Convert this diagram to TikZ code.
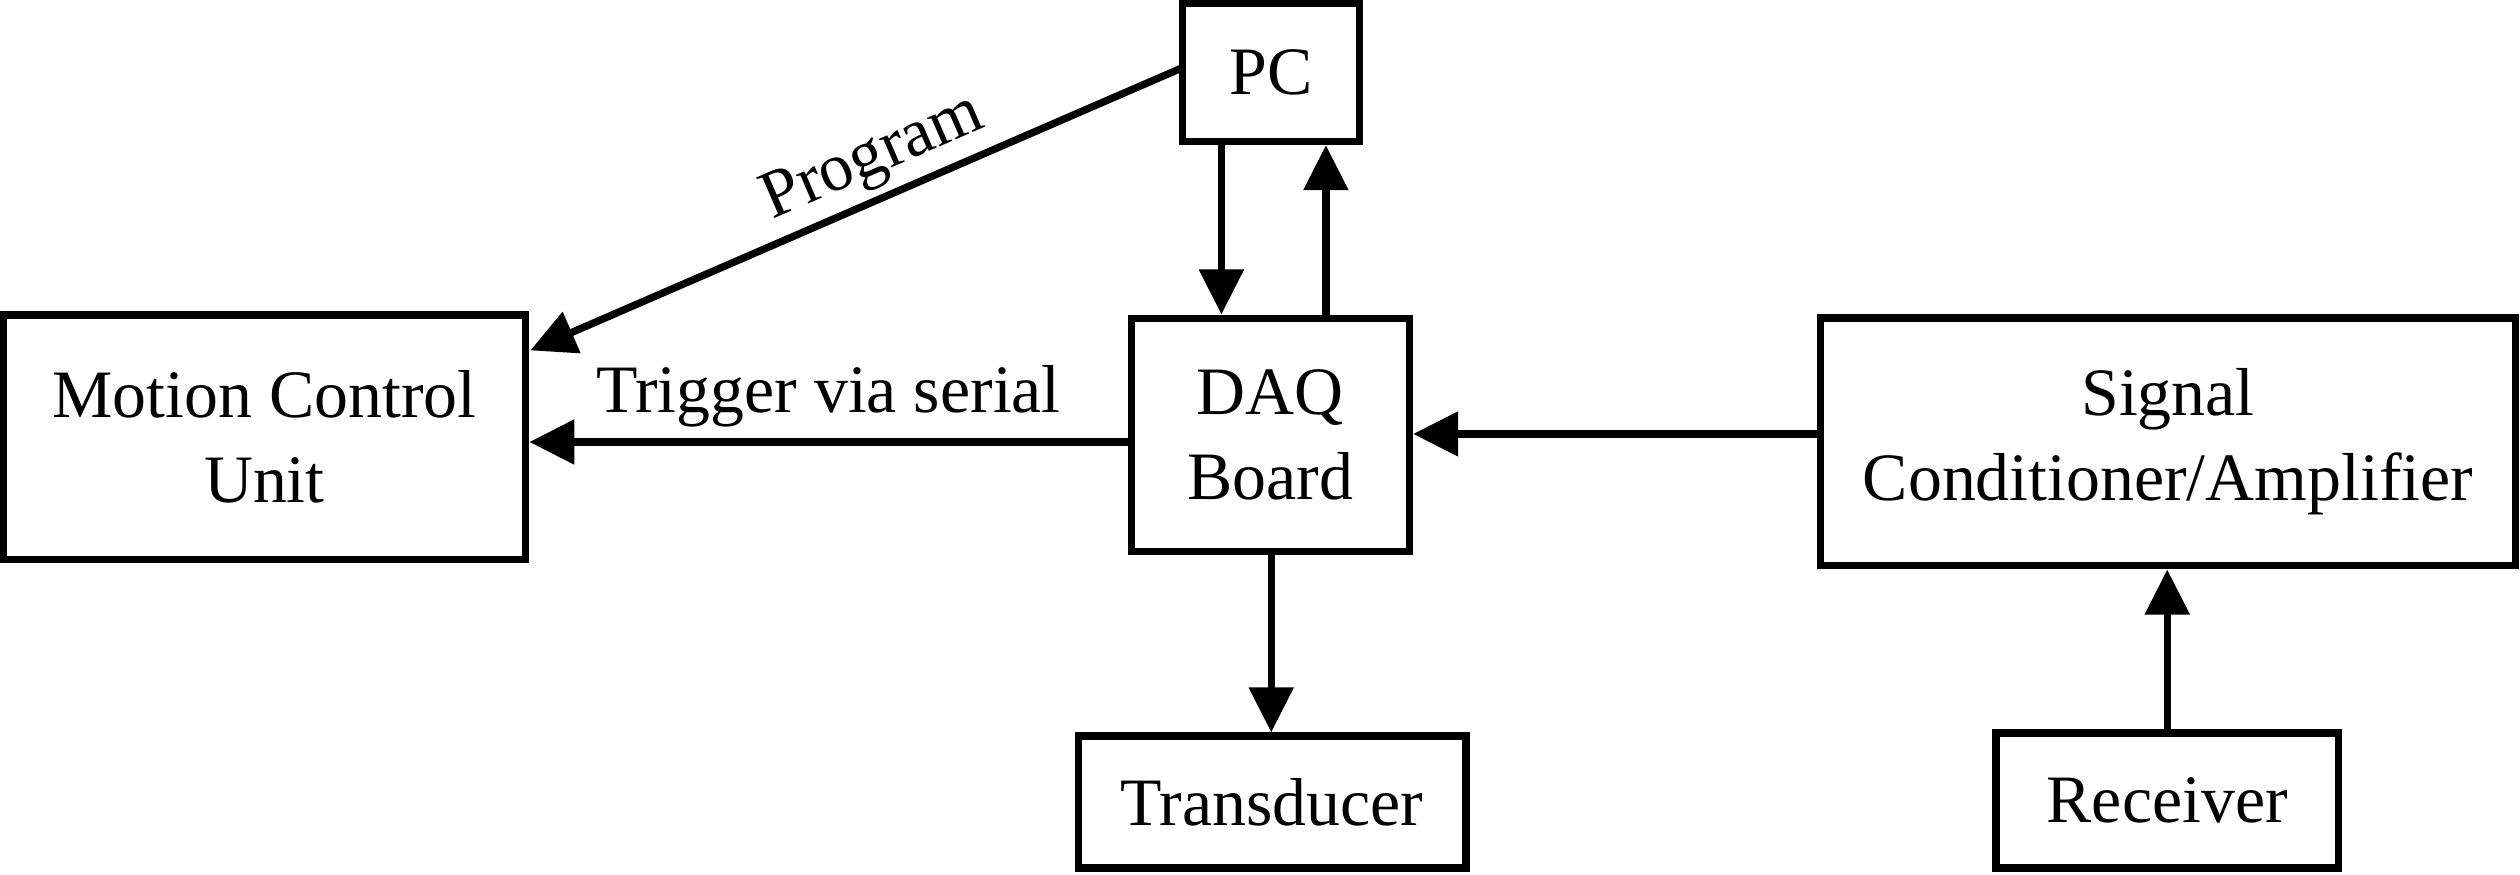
\documentclass[tikz,border=0pt]{standalone}
\usepackage{fontspec}
\setmainfont{Liberation Serif}
\usetikzlibrary{arrows.meta}
\begin{document}
\begin{tikzpicture}[x=0.01cm,y=-0.01cm,
  box/.style={draw,line width=1.3pt,align=center,font=\fontsize{12pt}{15pt}\selectfont,inner sep=0pt},
  conn/.style={line width=1.3pt,-{Triangle[length=0.28cm,width=0.27cm]}},
  lbl/.style={font=\fontsize{12pt}{15pt}\selectfont}]
\useasboundingbox (0,0) rectangle (1568,544);
\node[box,minimum width=1.10cm,minimum height=0.86cm] (pc) at (791,45) {PC};
\node[box,minimum width=3.25cm,minimum height=1.52cm] (mcu) at (164.5,272) {Motion Control\\Unit};
\node[box,minimum width=1.73cm,minimum height=1.45cm] (daq) at (790.5,270.5) {DAQ\\Board};
\node[box,minimum width=4.32cm,minimum height=1.54cm] (sc) at (1349,275) {Signal\\Conditioner/Amplifier};
\node[box,minimum width=2.41cm,minimum height=0.82cm] (tr) at (791.5,499) {Transducer};
\node[box,minimum width=2.13cm,minimum height=0.84cm] (rc) at (1348.5,498) {Receiver};
\coordinate (p1) at (736,42);
\coordinate (m1) at (330,218);
\draw[conn] (p1) -- node[lbl,sloped,above,inner sep=1pt,pos=0.45] {Program} (m1);
\draw[conn] (pc.south -| 760,0) -- (daq.north -| 760,0);
\draw[conn] (daq.north -| 825,0) -- (pc.south -| 825,0);
\draw[conn] (daq.west |- 0,275) -- node[lbl,above,inner sep=2pt] {Trigger via serial} (mcu.east |- 0,275);
\draw[conn] (sc.west |- 0,270) -- (daq.east |- 0,270);
\draw[conn] (daq.south -| 791,0) -- (tr.north -| 791,0);
\draw[conn] (rc.north) -- (sc.south -| rc.north);
\end{tikzpicture}
\end{document}
